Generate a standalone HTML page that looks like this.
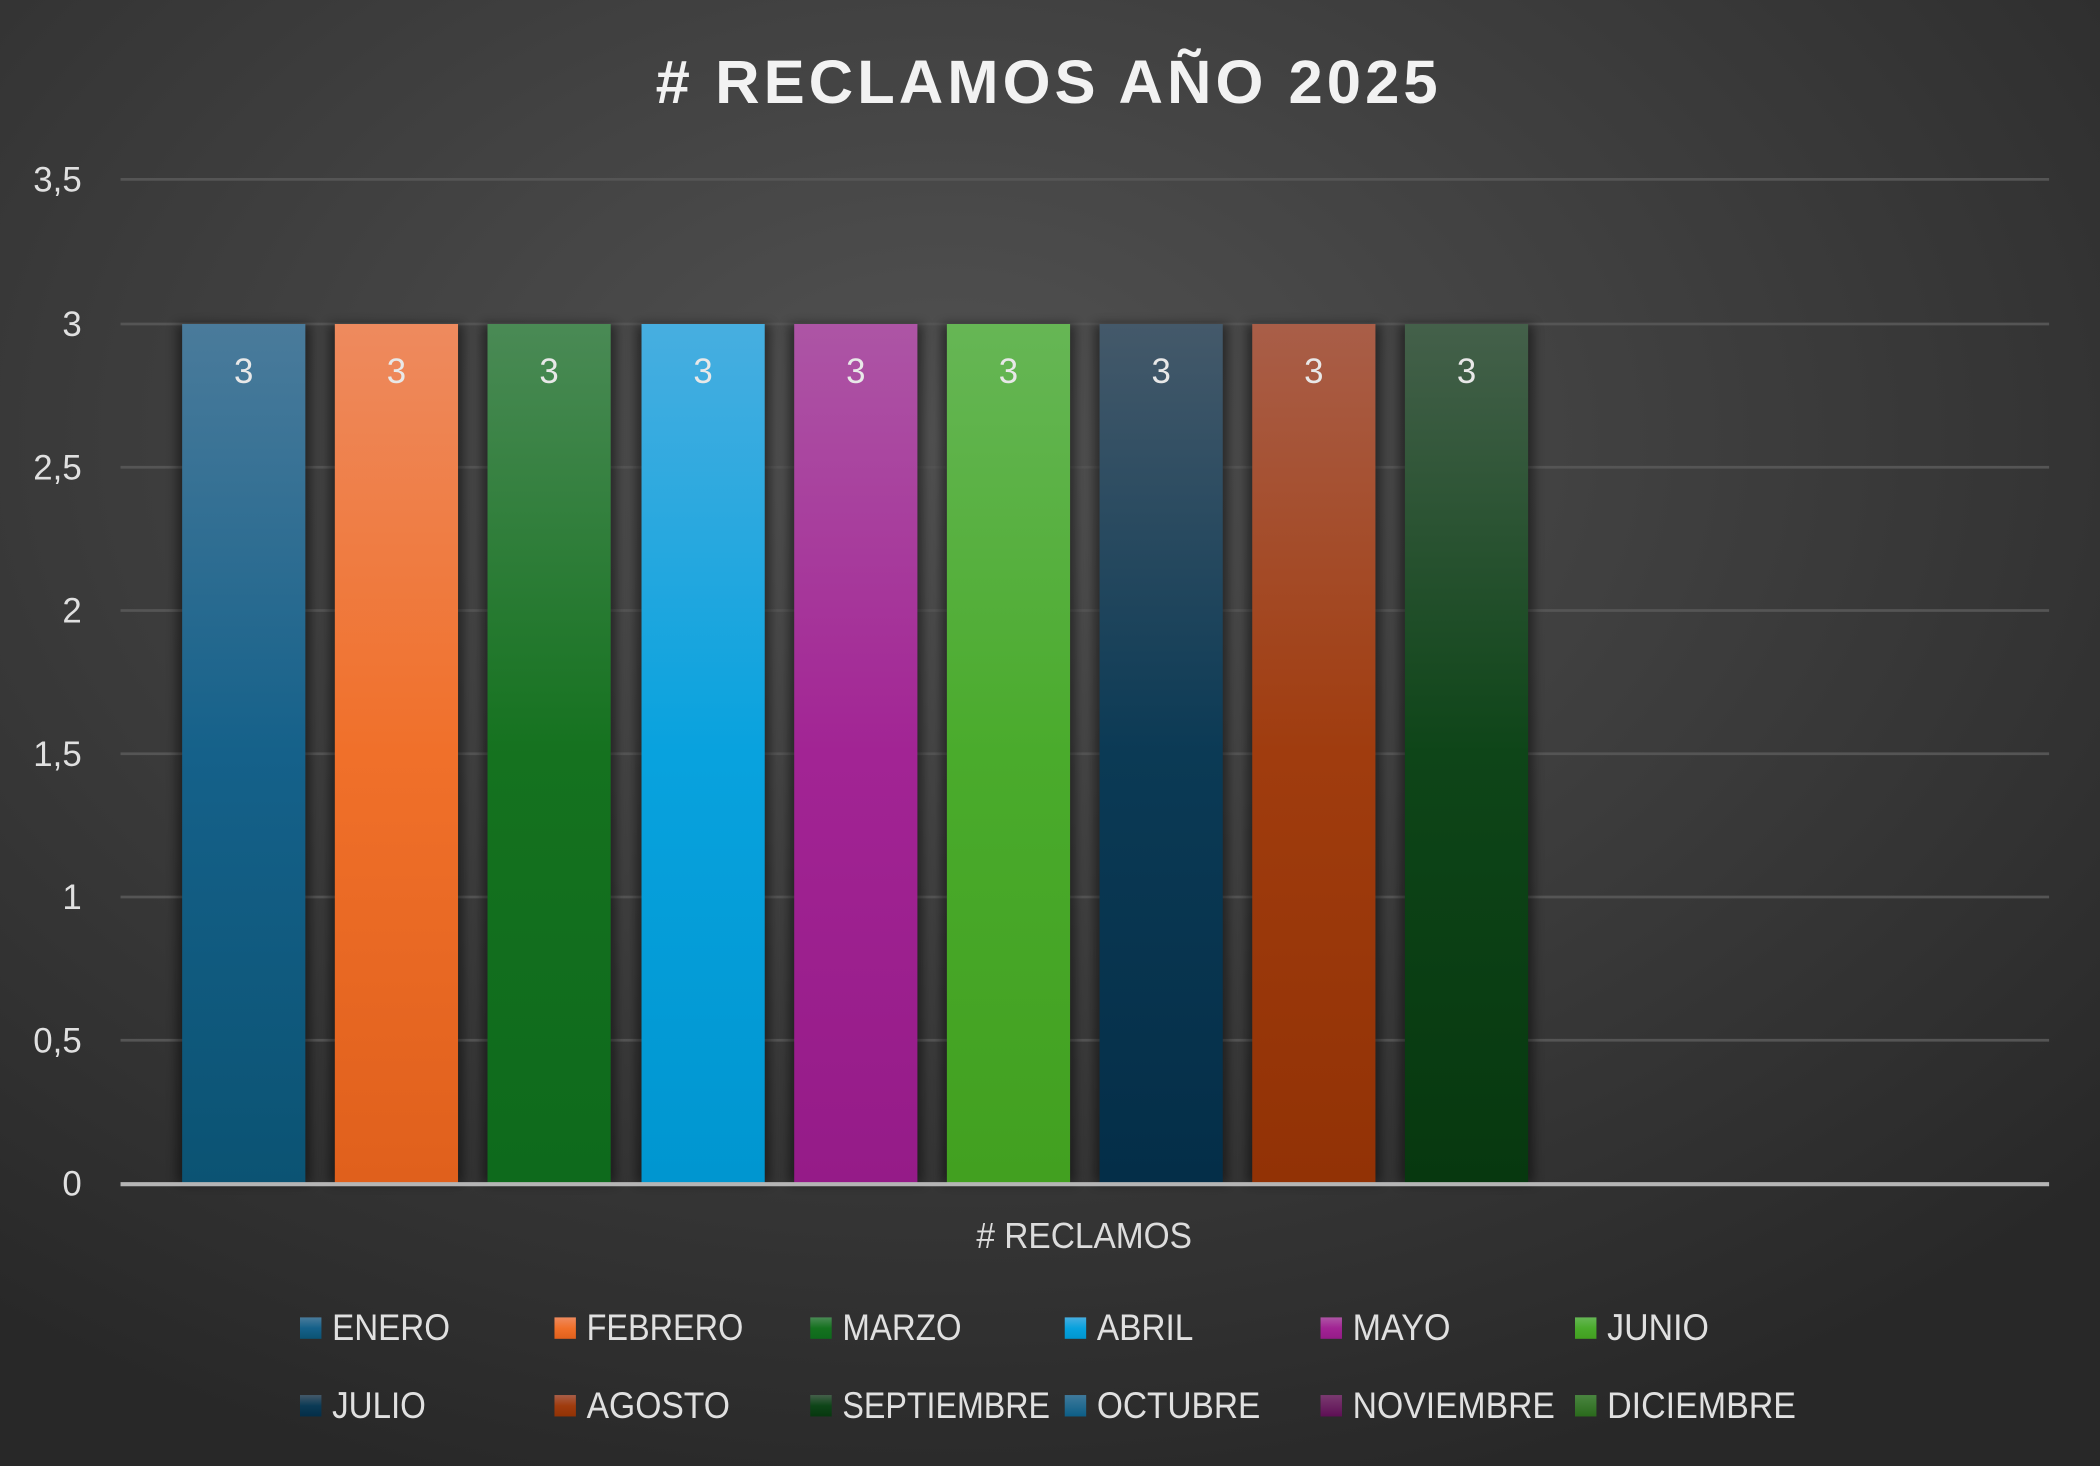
<!DOCTYPE html>
<html><head><meta charset="utf-8"><style>
html,body{margin:0;padding:0;background:#333;}
svg{display:block;}
text{font-family:"Liberation Sans",sans-serif;}
</style></head><body>
<svg width="2100" height="1466" viewBox="0 0 1568 1095" preserveAspectRatio="none" xmlns="http://www.w3.org/2000/svg">
<defs>
<radialGradient id="bg" cx="0.45" cy="0.3" r="0.75">
<stop offset="0" stop-color="#525252"/><stop offset="1" stop-color="#282828"/>
</radialGradient>
<filter id="sh" x="-20%" y="-5%" width="140%" height="110%"><feGaussianBlur stdDeviation="4"/></filter>
<linearGradient id="g0" x1="0" y1="0" x2="0" y2="1"><stop offset="0" stop-color="#4a7b9b"/><stop offset="0.5" stop-color="#15618a"/><stop offset="1" stop-color="#0b5373"/></linearGradient>
<linearGradient id="g1" x1="0" y1="0" x2="0" y2="1"><stop offset="0" stop-color="#ee8a5e"/><stop offset="0.5" stop-color="#f0702a"/><stop offset="1" stop-color="#e0601c"/></linearGradient>
<linearGradient id="g2" x1="0" y1="0" x2="0" y2="1"><stop offset="0" stop-color="#4a8a55"/><stop offset="0.5" stop-color="#15721f"/><stop offset="1" stop-color="#0e6a1c"/></linearGradient>
<linearGradient id="g3" x1="0" y1="0" x2="0" y2="1"><stop offset="0" stop-color="#47aee0"/><stop offset="0.5" stop-color="#08a2de"/><stop offset="1" stop-color="#0096d0"/></linearGradient>
<linearGradient id="g4" x1="0" y1="0" x2="0" y2="1"><stop offset="0" stop-color="#ad55a5"/><stop offset="0.5" stop-color="#a22494"/><stop offset="1" stop-color="#951b88"/></linearGradient>
<linearGradient id="g5" x1="0" y1="0" x2="0" y2="1"><stop offset="0" stop-color="#66b655"/><stop offset="0.5" stop-color="#4aab2c"/><stop offset="1" stop-color="#42a020"/></linearGradient>
<linearGradient id="g6" x1="0" y1="0" x2="0" y2="1"><stop offset="0" stop-color="#44596a"/><stop offset="0.5" stop-color="#0b3a55"/><stop offset="1" stop-color="#042e48"/></linearGradient>
<linearGradient id="g7" x1="0" y1="0" x2="0" y2="1"><stop offset="0" stop-color="#a95e48"/><stop offset="0.5" stop-color="#a03c0e"/><stop offset="1" stop-color="#923205"/></linearGradient>
<linearGradient id="g8" x1="0" y1="0" x2="0" y2="1"><stop offset="0" stop-color="#44604a"/><stop offset="0.5" stop-color="#0e4518"/><stop offset="1" stop-color="#07380f"/></linearGradient>
<linearGradient id="g9" x1="0" y1="0" x2="0" y2="1"><stop offset="0" stop-color="#3f7a9c"/><stop offset="1" stop-color="#0c5e86"/></linearGradient>
<linearGradient id="g10" x1="0" y1="0" x2="0" y2="1"><stop offset="0" stop-color="#7a3a70"/><stop offset="1" stop-color="#5e0f55"/></linearGradient>
<linearGradient id="g11" x1="0" y1="0" x2="0" y2="1"><stop offset="0" stop-color="#4a8540"/><stop offset="1" stop-color="#2a6a1c"/></linearGradient>
</defs>
<rect width="1568" height="1095" fill="url(#bg)"/>
<text x="783" y="77" text-anchor="middle" font-weight="bold" font-size="46" letter-spacing="3" fill="#f2f2f2">#  RECLAMOS AÑO 2025</text>
<g stroke="#555" stroke-width="2">
<line x1="90" y1="134" x2="1530" y2="134"/><line x1="90" y1="242" x2="1530" y2="242"/>
<line x1="90" y1="349" x2="1530" y2="349"/><line x1="90" y1="456" x2="1530" y2="456"/>
<line x1="90" y1="563" x2="1530" y2="563"/><line x1="90" y1="670" x2="1530" y2="670"/>
<line x1="90" y1="777" x2="1530" y2="777"/>
</g>
<g fill="#e0e0e0" font-size="26" text-anchor="end">
<text x="61" y="143">3,5</text><text x="61" y="251">3</text><text x="61" y="358">2,5</text>
<text x="61" y="465">2</text><text x="61" y="572">1,5</text><text x="61" y="679">1</text>
<text x="61" y="786">0,5</text><text x="61" y="893">0</text>
</g>
<g>
<rect x="132" y="242" width="100" height="642" fill="#000" opacity="0.45" filter="url(#sh)"/>
<rect x="246" y="242" width="100" height="642" fill="#000" opacity="0.45" filter="url(#sh)"/>
<rect x="360" y="242" width="100" height="642" fill="#000" opacity="0.45" filter="url(#sh)"/>
<rect x="475" y="242" width="100" height="642" fill="#000" opacity="0.45" filter="url(#sh)"/>
<rect x="589" y="242" width="100" height="642" fill="#000" opacity="0.45" filter="url(#sh)"/>
<rect x="703" y="242" width="100" height="642" fill="#000" opacity="0.45" filter="url(#sh)"/>
<rect x="817" y="242" width="100" height="642" fill="#000" opacity="0.45" filter="url(#sh)"/>
<rect x="931" y="242" width="100" height="642" fill="#000" opacity="0.45" filter="url(#sh)"/>
<rect x="1045" y="242" width="100" height="642" fill="#000" opacity="0.45" filter="url(#sh)"/>
</g>
<rect x="136" y="242" width="92" height="642" fill="url(#g0)"/>
<rect x="250" y="242" width="92" height="642" fill="url(#g1)"/>
<rect x="364" y="242" width="92" height="642" fill="url(#g2)"/>
<rect x="479" y="242" width="92" height="642" fill="url(#g3)"/>
<rect x="593" y="242" width="92" height="642" fill="url(#g4)"/>
<rect x="707" y="242" width="92" height="642" fill="url(#g5)"/>
<rect x="821" y="242" width="92" height="642" fill="url(#g6)"/>
<rect x="935" y="242" width="92" height="642" fill="url(#g7)"/>
<rect x="1049" y="242" width="92" height="642" fill="url(#g8)"/>
<line x1="90" y1="884.5" x2="1530" y2="884.5" stroke="#b5b5b5" stroke-width="3"/>
<g fill="#e8e8e8" font-size="26" text-anchor="middle">
<text x="182" y="286">3</text><text x="296" y="286">3</text><text x="410" y="286">3</text>
<text x="525" y="286">3</text><text x="639" y="286">3</text><text x="753" y="286">3</text>
<text x="867" y="286">3</text><text x="981" y="286">3</text><text x="1095" y="286">3</text>
</g>
<text x="729" y="932" font-size="27" fill="#dcdcdc" textLength="161" lengthAdjust="spacingAndGlyphs">#  RECLAMOS</text>
<g font-size="28" fill="#e0e0e0">
<rect x="224" y="984" width="16" height="16" fill="url(#g0)"/><text x="248" y="1001" textLength="88" lengthAdjust="spacingAndGlyphs">ENERO</text>
<rect x="414" y="984" width="16" height="16" fill="url(#g1)"/><text x="438" y="1001" textLength="117" lengthAdjust="spacingAndGlyphs">FEBRERO</text>
<rect x="605" y="984" width="16" height="16" fill="url(#g2)"/><text x="629" y="1001" textLength="89" lengthAdjust="spacingAndGlyphs">MARZO</text>
<rect x="795" y="984" width="16" height="16" fill="url(#g3)"/><text x="819" y="1001" textLength="72" lengthAdjust="spacingAndGlyphs">ABRIL</text>
<rect x="986" y="984" width="16" height="16" fill="url(#g4)"/><text x="1010" y="1001" textLength="73" lengthAdjust="spacingAndGlyphs">MAYO</text>
<rect x="1176" y="984" width="16" height="16" fill="url(#g5)"/><text x="1200" y="1001" textLength="76" lengthAdjust="spacingAndGlyphs">JUNIO</text>
<rect x="224" y="1042" width="16" height="16" fill="url(#g6)"/><text x="248" y="1059" textLength="70" lengthAdjust="spacingAndGlyphs">JULIO</text>
<rect x="414" y="1042" width="16" height="16" fill="url(#g7)"/><text x="438" y="1059" textLength="107" lengthAdjust="spacingAndGlyphs">AGOSTO</text>
<rect x="605" y="1042" width="16" height="16" fill="url(#g8)"/><text x="629" y="1059" textLength="155" lengthAdjust="spacingAndGlyphs">SEPTIEMBRE</text>
<rect x="795" y="1042" width="16" height="16" fill="url(#g9)"/><text x="819" y="1059" textLength="122" lengthAdjust="spacingAndGlyphs">OCTUBRE</text>
<rect x="986" y="1042" width="16" height="16" fill="url(#g10)"/><text x="1010" y="1059" textLength="151" lengthAdjust="spacingAndGlyphs">NOVIEMBRE</text>
<rect x="1176" y="1042" width="16" height="16" fill="url(#g11)"/><text x="1200" y="1059" textLength="141" lengthAdjust="spacingAndGlyphs">DICIEMBRE</text>
</g>
</svg>
</body></html>
